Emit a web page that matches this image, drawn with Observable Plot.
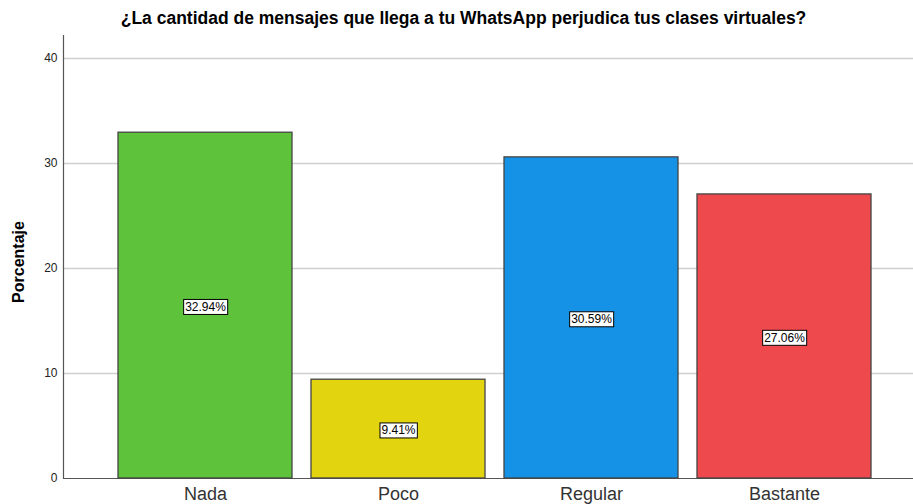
<!DOCTYPE html>
<html><head><meta charset="utf-8">
<script src="https://cdn.jsdelivr.net/npm/d3@7"></script>
<script src="https://cdn.jsdelivr.net/npm/@observablehq/plot@0.6"></script>
<style>
body{margin:0;background:#fff;}
svg{font-family:"Liberation Sans",Arial,sans-serif;}
</style>
</head><body>
<div id="chart"></div>
<script>
const categories = ["Nada","Poco","Regular","Bastante"];
const values = [32.94, 9.41, 30.59, 27.06];
const colors = ["#5ec23a","#e2d50f","#1592e6","#ee4a4d"];
const yTicks = [0,10,20,30,40];
const title = "¿La cantidad de mensajes que llega a tu WhatsApp perjudica tus clases virtuales?";

const data = categories.map((c,i)=>({cat:c, v:values[i], color:colors[i], label:values[i].toFixed(2)+"%"}));

const chart = Plot.plot({
  width: 913, height: 504,
  marginLeft: 63, marginRight: 0, marginTop: 35, marginBottom: 26,
  x: {domain: categories, range: [97.6, 891], padding: 0.1, label: null, axis: null},
  y: {domain: [0, 42.2], label: null, axis: null},
  marks: [
    Plot.ruleY(yTicks.filter(d=>d>0), {stroke:"#cfcfcf", strokeWidth:1.5}),
    Plot.ruleY([0], {stroke:"#555", strokeWidth:1}),
    Plot.frame({anchor:"left", stroke:"#555", strokeWidth:1.2}),
    Plot.barY(data, {x:"cat", y:"v", fill:"color", stroke:"#444", strokeWidth:1.3}),
    Plot.text(data, {x:"cat", y:d=>d.v/2, dy:1.5, text:"label", fontSize:12, fill:"#000", className:"vlabel"}),
    Plot.axisY(yTicks, {tickSize:0, tickPadding:6, fontSize:12, fill:"#222", label:null}),
    Plot.axisX(categories, {tickSize:0, tickPadding:9, fontSize:18, fill:"#333", label:null}),
    Plot.text([title], {frameAnchor:"top", dy:-24, dx:-25, fontSize:17.5, fontWeight:"bold", fill:"#000"}),
    Plot.text(["Porcentaje"], {frameAnchor:"left", dx:-45, dy:5, rotate:-90, textAnchor:"middle", fontSize:16, fontWeight:"bold", fill:"#000"})
  ]
});
document.getElementById("chart").appendChild(chart);

// white boxes behind value labels
chart.querySelectorAll(".vlabel text").forEach(t=>{
  const b = t.getBBox();
  const r = document.createElementNS("http://www.w3.org/2000/svg","rect");
  r.setAttribute("x", b.x-1.5); r.setAttribute("y", b.y-0.5);
  r.setAttribute("width", b.width+3); r.setAttribute("height", b.height+1);
  r.setAttribute("fill","#fff"); r.setAttribute("stroke","#000"); r.setAttribute("stroke-width","1");
  const tr = t.getAttribute("transform");
  if (tr) r.setAttribute("transform", tr);
  t.parentNode.insertBefore(r, t);
});
</script>
</body></html>
